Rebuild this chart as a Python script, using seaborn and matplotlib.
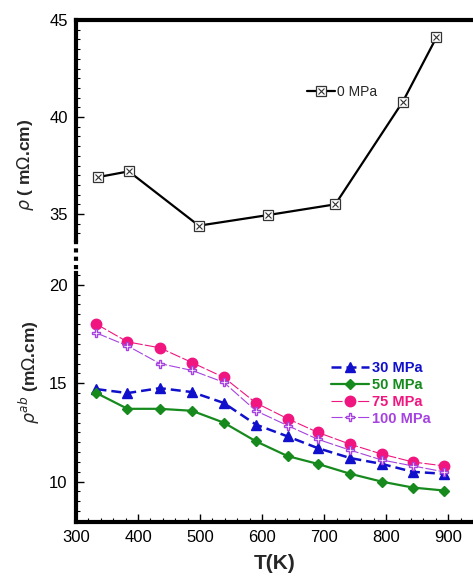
import numpy as np
import pandas as pd
import matplotlib
matplotlib.use("Agg")
import matplotlib.pyplot as plt
import seaborn as sns
from matplotlib.lines import Line2D
from matplotlib.ticker import MultipleLocator

# top panel: 0 MPa
t_top = [335, 385, 498, 610, 718, 827, 881]
rho_0 = [36.9, 37.2, 34.4, 34.95, 35.5, 40.8, 44.1]

# bottom panel: rho_ab under pressure
t_bot = [333, 383, 435, 487, 538, 590, 641, 690, 742, 793, 843, 893]
rho_30 = [14.7, 14.5, 14.75, 14.55, 14.0, 12.9, 12.3, 11.7, 11.2, 10.9, 10.5, 10.4]
rho_50 = [14.5, 13.7, 13.7, 13.6, 13.0, 12.05, 11.3, 10.9, 10.4, 10.0, 9.7, 9.55]
rho_75 = [18.0, 17.1, 16.8, 16.05, 15.3, 14.0, 13.2, 12.5, 11.9, 11.4, 11.0, 10.8]
rho_100 = [17.55, 16.9, 16.0, 15.65, 15.05, 13.6, 12.85, 12.15, 11.6, 11.1, 10.8, 10.5]

sns.set_theme(style="white")
plt.rcParams['font.family'] = ['Liberation Sans', 'DejaVu Sans']

fig = plt.figure(figsize=(4.73, 5.77), dpi=100)
ax_top = fig.add_axes([0.1607, 0.584, 0.8393, 0.3813])
ax_bot = fig.add_axes([0.1607, 0.0953, 0.8393, 0.4316])

# --- top panel ---
df_top = pd.DataFrame({"T": t_top, "rho": rho_0})
sns.lineplot(data=df_top, x="T", y="rho", ax=ax_top, color="black", lw=1.6,
             marker="s", markersize=7, markerfacecolor="white",
             markeredgecolor="#333333", markeredgewidth=0.9)
ax_top.plot(df_top["T"], df_top["rho"], ls="none", marker="x", markersize=5,
            color="#333333", markeredgewidth=0.8)
h_line = Line2D([], [], color="black", lw=1.6, marker="s", markersize=7,
                markerfacecolor="white", markeredgecolor="#333333", markeredgewidth=0.9)
h_x = Line2D([], [], ls="none", marker="x", markersize=5, color="#333333",
             markeredgewidth=0.8)
ax_top.legend([(h_line, h_x)], ["0 MPa"], frameon=False, loc="upper left",
              bbox_to_anchor=(0.55, 0.76), handlelength=2.0, handletextpad=0.2,
              prop={"size": 10})

ax_top.set_xlim(300, 940)
ax_top.set_ylim(33.66, 45)
ax_top.yaxis.set_major_locator(MultipleLocator(5))
ax_top.yaxis.set_minor_locator(MultipleLocator(0.5))
ax_top.set_xticks([])
ax_top.set_xlabel("")
ax_top.set_ylabel(r"$\rho$ ( m$\Omega$.cm)", fontsize=12.5, fontweight="bold")
ax_top.yaxis.set_label_coords(-0.10, 0.34)
for s in ["bottom", "right"]:
    ax_top.spines[s].set_visible(False)
ax_top.spines["left"].set_linewidth(3)
ax_top.spines["top"].set_linewidth(3)
for s in ax_top.spines.values():
    s.set_color("black")

# --- bottom panel ---
series = [
    ("30 MPa", rho_30, "#1010CC", "^", (4, 2), 1.8, 6.5, "#1010CC"),
    ("50 MPa", rho_50, "#178A1E", "D", None, 1.6, 5.5, "#178A1E"),
    ("75 MPa", rho_75, "#F0157F", "o", (10, 2), 0.8, 7.5, "#F0157F"),
    ("100 MPa", rho_100, "#A642E0", "P", (10, 2), 0.8, 6, "white"),
]
handles = []
for name, vals, col, mk, dash, lw, ms, face in series:
    df = pd.DataFrame({"T": t_bot, "rho": vals})
    kw = dict(color=col, lw=lw, marker=mk, markersize=ms,
              markerfacecolor=face, markeredgecolor=col, markeredgewidth=1.0)
    sns.lineplot(data=df, x="T", y="rho", ax=ax_bot, **kw)
    h = Line2D([], [], **kw)
    if dash is not None:
        ax_bot.lines[-1].set_dashes(dash)
        h.set_dashes(dash)
    handles.append(h)

leg = ax_bot.legend(handles, [s[0] for s in series], frameon=False, loc="upper left",
                    bbox_to_anchor=(0.61, 0.70), handlelength=2.6, handletextpad=0.2,
                    labelspacing=0.2, prop={"size": 10.5, "weight": "bold"})
for txt, s in zip(leg.get_texts(), series):
    txt.set_color(s[2])

ax_bot.set_xlim(300, 940)
ax_bot.set_ylim(7.95, 20.6)
ax_bot.xaxis.set_minor_locator(MultipleLocator(20))
ax_bot.set_xticks([300, 400, 500, 600, 700, 800, 900])
ax_bot.yaxis.set_major_locator(MultipleLocator(5))
ax_bot.yaxis.set_minor_locator(MultipleLocator(0.5))
ax_bot.set_xlabel("T(K)", fontsize=15, fontweight="bold", labelpad=6)
ax_bot.set_ylabel(r"$\rho^{ab}$ (m$\Omega$.cm)", fontsize=12.5, fontweight="bold")
ax_bot.yaxis.set_label_coords(-0.085, 0.60)
for s in ["top", "right"]:
    ax_bot.spines[s].set_visible(False)
ax_bot.spines["left"].set_linewidth(3)
ax_bot.spines["bottom"].set_linewidth(3)
for s in ax_bot.spines.values():
    s.set_color("black")

for ax in (ax_top, ax_bot):
    ax.tick_params(which="both", direction="in", left=True, bottom=(ax is ax_bot),
                   top=False, right=False, colors="black")
    ax.tick_params(which="major", length=6, width=1, labelsize=12, pad=6)
    ax.tick_params(which="minor", length=3, width=0.8)
    ax.grid(False)

# dotted break between panels on the left spine
fig.add_artist(Line2D([0.1607, 0.1607], [0.584, 0.5269], transform=fig.transFigure,
                      color="black", lw=3, ls=(0, (1, 1))))

fig.savefig("out.png", dpi=100)
